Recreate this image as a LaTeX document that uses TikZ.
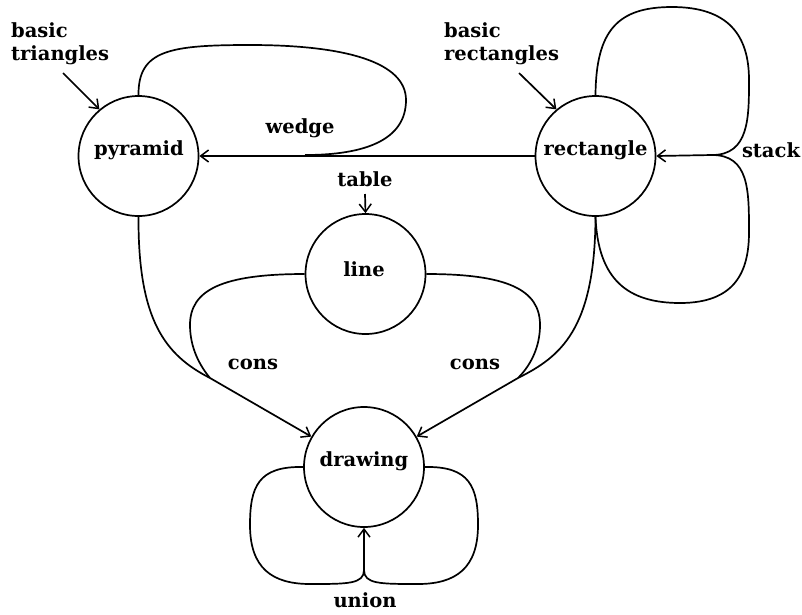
\documentclass[tikz,border=0pt]{standalone}
\usepackage{fontspec}
\setmainfont{DejaVu Serif}
\usetikzlibrary{arrows.meta}
\begin{document}
\begin{tikzpicture}[x=1pt,y=-1pt,
  every node/.style={font=\fontsize{19.5}{23.5}\selectfont\bfseries},
  state/.style={circle,draw,line width=1.7pt,minimum size=120pt,inner sep=0pt},
  link/.style={line width=1.7pt},
  arr/.style={line width=1.7pt,-{Straight Barb[length=8pt,width=12pt,line width=1.5pt]}},
  lbl/.style={inner sep=0pt}]
\useasboundingbox (0,0) rectangle (802,614);
\node[state] (pyr) at (138.5,156) {};
\node[lbl] at (139,150) {pyramid};
\node[state] (rect) at (595.5,156) {};
\node[lbl] at (595.5,150) {rectangle};
\node[state] (line) at (365.5,274) {};
\node[lbl] at (364,269) {line};
\node[state] (drw) at (364,467) {};
\node[lbl] at (364,461) {drawing};
% labels
\node[lbl,anchor=north west,align=left] (bt) at (11,22) {basic\\triangles};
\node[lbl,anchor=north west,align=left] (br) at (444,22) {basic\\rectangles};
\node[lbl] (wl) at (300,128) {wedge};
\node[lbl] (tl) at (365,179) {table};
\node[lbl] (sl) at (771,150) {stack};
\node[lbl] (cl1) at (253,364) {cons};
\node[lbl] (cl2) at (475,364) {cons};
\node[lbl] (ul) at (365,600) {union};
% junctions
\coordinate (bts) at (63,73);
\coordinate (brs) at (519,73);
\coordinate (ts) at (365,194);
\coordinate (wj) at (305,155);
\coordinate (sj) at (712,155);
\coordinate (cj1) at (210,378);
\coordinate (cj2) at (518,378);
\coordinate (uj) at (364,570);
% inputs
\draw[arr] (bts) -- (pyr.130);
\draw[arr] (brs) -- (rect.130);
\draw[arr] (ts) -- (line.north);
% wedge
\draw[arr] (rect.west) -- (pyr.east);
\draw[link] (pyr.north) .. controls (138,50) and (170,45) .. (250,45)
  .. controls (345,45) and (406,62) .. (406,100)
  .. controls (406,140) and (365,155) .. (wj);
% stack
\draw[arr] (sj) -- (rect.east);
\draw[link] (rect.north) .. controls (596,30) and (618,7) .. (672,7)
  .. controls (728,7) and (749,35) .. (749,80)
  .. controls (749,118) and (749,155) .. (sj);
\draw[link] (rect.south) .. controls (598,280) and (628,303) .. (680,303)
  .. controls (735,303) and (749,272) .. (749,232)
  .. controls (749,190) and (749,155) .. (sj);
% cons left
\draw[link] (pyr.south) .. controls (138,320) and (165,355) .. (cj1);
\draw[link] (line.west) .. controls (222,274) and (190,290) .. (190,325)
  .. controls (190,348) and (200,366) .. (cj1);
\draw[arr] (cj1) -- (drw.150);
% cons right
\draw[link] (rect.south) .. controls (595,330) and (560,357) .. (cj2);
\draw[link] (line.east) .. controls (508,274) and (540,290) .. (540,325)
  .. controls (540,348) and (530,366) .. (cj2);
\draw[arr] (cj2) -- (drw.30);
% union
\draw[arr] (uj) -- (drw.south);
\draw[link] (drw.west) .. controls (258,466) and (250,487) .. (250,525)
  .. controls (250,568) and (272,584) .. (310,584)
  .. controls (348,584) and (364,584) .. (uj);
\draw[link] (drw.east) .. controls (470,466) and (478,487) .. (478,525)
  .. controls (478,568) and (456,584) .. (418,584)
  .. controls (380,584) and (364,584) .. (uj);
\end{tikzpicture}
\end{document}
